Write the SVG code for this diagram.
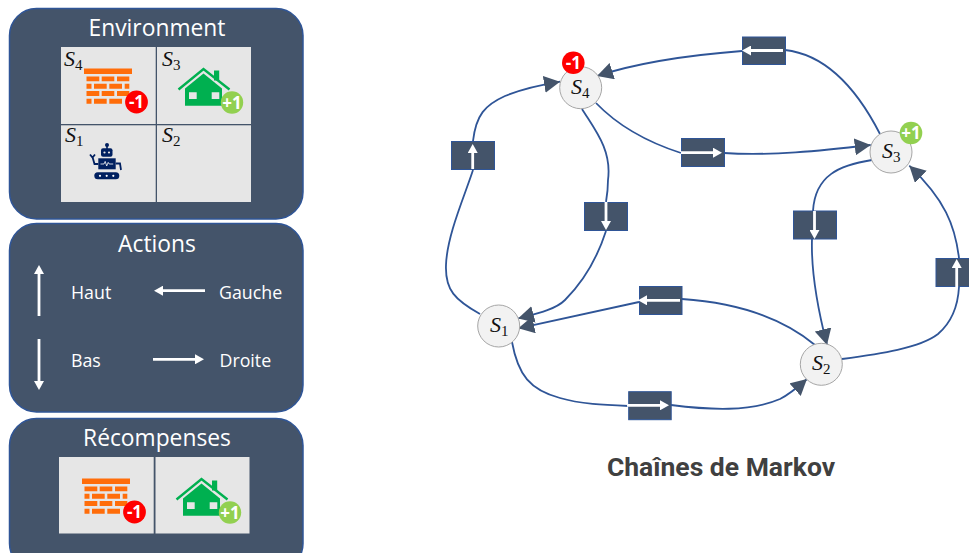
<svg xmlns="http://www.w3.org/2000/svg" width="969" height="553" viewBox="0 0 969 553">
<style>
.panel{fill:#44546a;stroke:#2f5597;stroke-width:1.5}
.cell{fill:#e6e6e6}
.ttl{font-family:"Open Sans","Liberation Sans",sans-serif;font-size:22.8px;fill:#fff;text-anchor:middle}
.lbl{font-family:"Open Sans","Liberation Sans",sans-serif;font-size:17.8px;fill:#fff}
.s{font-family:"Liberation Serif",serif;font-style:italic;font-size:22px;fill:#111}
.sub{font-style:normal;font-size:15px}
.bt{font-family:"Open Sans","Liberation Sans",sans-serif;font-weight:700;font-size:17px;fill:#fff;text-anchor:middle}
.conn path{fill:none;stroke:#2f5597;stroke-width:1.8}
.conn path.arr{marker-end:url(#head)}
.box{fill:#44546a;stroke:#2f5597;stroke-width:1}
.wa{fill:none;stroke:#fff;stroke-width:2.8;marker-end:url(#whead)}
.st{fill:#f2f2f2;stroke:#a6a6a6;stroke-width:1}
</style>
<defs>
<marker id="head" markerUnits="userSpaceOnUse" markerWidth="16" markerHeight="17" refX="16" refY="8.5" orient="auto"><path d="M0,0L16,8.5L0,17z" fill="#44546a"/></marker>
<marker id="whead" markerUnits="userSpaceOnUse" markerWidth="9" markerHeight="10" refX="1" refY="5" orient="auto"><path d="M0,0L9,5L0,10z" fill="#fff"/></marker>
<g id="wall" fill="#ff6d0a">
<rect x="84" y="68.5" width="48" height="5.5"/>
<path d="M86.5,76.5h12.8v4.7h-12.8zM101.7,76.5h12.6v4.7h-12.6zM117,76.5h12.3v4.7h-12.3zM86.5,83.7h5v5h-5zM94,83.7h12.7v5h-12.7zM109.3,83.7h12.7v5h-12.7zM124.7,83.7h4.6v5h-4.6zM86.5,91h12.8v5h-12.8zM101.7,91h12.6v5h-12.6zM117,91h12.3v5h-12.3zM86.5,98.7h5v5h-5zM94,98.7h12.7v5h-12.7zM109.3,98.7h12.7v5h-12.7z"/>
<circle cx="136.5" cy="102" r="11.4" fill="#ff0000"/>
<text class="bt" x="136.5" y="108">-1</text>
</g>
<g id="house">
<path fill="#00b050" d="M185,88.5L203.5,73.5L222,88.5V105.7H185z"/>
<rect x="214" y="70.5" width="5.2" height="10" fill="#00b050"/>
<path d="M178.5,89.5L203.5,69L229.5,89.5" fill="none" stroke="#00b050" stroke-width="2.4"/>
<path d="M189,92.3h7.7V99H189zM211.7,92.3h7.6V99h-7.6z" fill="#e6e6e6"/>
<circle cx="232" cy="102.5" r="11.2" fill="#92d050"/>
<text class="bt" x="232" y="108.5">+1</text>
</g>
</defs>

<g id="panel-environment">
<rect class="panel" x="9.5" y="8.5" width="293.5" height="210.5" rx="27"/>
<text class="ttl" x="157" y="36">Environment</text>
<rect class="cell" x="61" y="47" width="94.7" height="77"/>
<rect class="cell" x="157" y="47" width="94" height="77"/>
<rect class="cell" x="61" y="125.3" width="94.7" height="76.7"/>
<rect class="cell" x="157" y="125.3" width="94" height="76.7"/>
<text class="s" x="64" y="66">S<tspan class="sub" dy="3.5">4</tspan></text>
<text class="s" x="162" y="66">S<tspan class="sub" dy="3.5">3</tspan></text>
<text class="s" x="65" y="142">S<tspan class="sub" dy="3.5">1</tspan></text>
<text class="s" x="162" y="142">S<tspan class="sub" dy="3.5">2</tspan></text>
<use href="#wall"/>
<use href="#house"/>
<g id="robot">
<circle cx="107" cy="145" r="2" fill="#002060"/>
<path d="M106.2,146h1.6v3h-1.6z" fill="#002060"/>
<rect x="101" y="148.3" width="11.5" height="8.4" rx="2" fill="#002060"/>
<circle cx="104.5" cy="152.5" r="1.1" fill="#e6e6e6"/><circle cx="109" cy="152.5" r="1.1" fill="#e6e6e6"/>
<rect x="98.3" y="158.3" width="17.4" height="11" fill="#002060"/>
<path d="M100.5,164h3.5l1.2,-2.6l1.5,4.6l1.5,-3.6l1,1.6h4" fill="none" stroke="#fff" stroke-width=".8"/>
<path d="M98.3,164H94.5L92.5,157M90,154.5L92.5,157.5L95,154.5M115.7,163.5H120L121,170" fill="none" stroke="#002060" stroke-width="1.8"/>
<rect x="94.3" y="172.3" width="25" height="7" rx="3.5" fill="#002060"/>
<circle cx="100" cy="175.8" r="1.1" fill="#fff"/><circle cx="106.7" cy="175.8" r="1.1" fill="#fff"/><circle cx="113.3" cy="175.8" r="1.1" fill="#fff"/>
</g>
</g>

<g id="panel-actions">
<rect class="panel" x="9.5" y="223.5" width="293.5" height="188.5" rx="27"/>
<text class="ttl" x="157" y="252">Actions</text>
<path class="wa" d="M39,316V273"/>
<path class="wa" d="M39,339V382"/>
<path class="wa" d="M205,290.7H162"/>
<path class="wa" d="M153,359.3H196"/>
<text class="lbl" x="71" y="298.5">Haut</text>
<text class="lbl" x="219" y="299">Gauche</text>
<text class="lbl" x="71" y="366.5">Bas</text>
<text class="lbl" x="219.5" y="367">Droite</text>
</g>

<g id="panel-recompenses">
<rect class="panel" x="9.5" y="418.5" width="293.5" height="152" rx="27"/>
<text class="ttl" x="157" y="446">Récompenses</text>
<rect class="cell" x="59" y="457" width="94.7" height="76.5"/>
<rect class="cell" x="155.5" y="457" width="94" height="76.5"/>
<use href="#wall" transform="translate(-2,410)"/>
<use href="#house" transform="translate(-2,410)"/>
</g>

<g id="connectors" class="conn">
<path class="arr" d="M596,103C620,128 650,143 681,153M724,153C770,156 820,151 870.7,145"/>
<path class="arr" d="M880,134C860,95 830,55 785,50M742,51C690,55 640,62 597,76"/>
<path class="arr" d="M582,109C595,130 612,150 608,180Q608,190 606,202M606,231C595,265 580,285 565,300C555,310 535,314 518,318.5"/>
<path class="arr" d="M480,314C455,300 445,290 446,265C447,235 465,195 473,170M473,141C476,115 485,105 505,96C520,90 540,85 560,81.7"/>
<path class="arr" d="M815,345C785,320 740,303 682,299M639,302L518.3,328.3"/>
<path class="arr" d="M512,342C518,375 530,390 560,398C580,404 605,405 629,406M671,405C710,410 750,412 780,399C790,394 798,387 807,379"/>
<path class="arr" d="M842,359C880,354 920,348 938,334C952,322 958,305 959,287M959,258C955,225 945,200 909.3,165.7"/>
<path class="arr" d="M872,160C840,165 815,175 813,211M812,239C811,270 818,310 827,345"/>
</g>

<g id="action-s4-s3"><rect class="box" x="681.5" y="138.5" width="43" height="28"/><path class="wa" d="M681,152.7H714"/></g>
<g id="action-s3-s4"><rect class="box" x="742.5" y="37" width="43" height="27.5"/><path class="wa" d="M783,50.5H750"/></g>
<g id="action-s1-s4"><rect class="box" x="451.5" y="141.5" width="43" height="28"/><path class="wa" d="M472.7,169V152"/></g>
<g id="action-s4-s1"><rect class="box" x="584.5" y="202.5" width="43" height="28"/><path class="wa" d="M606,202V222"/></g>
<g id="action-s3-s2"><rect class="box" x="793.5" y="211" width="43" height="28"/><path class="wa" d="M814.5,211V231"/></g>
<g id="action-s2-s3"><rect class="box" x="936" y="258.5" width="43" height="28"/><path class="wa" d="M956.7,287V267"/></g>
<g id="action-s2-s1"><rect class="box" x="639.5" y="286.5" width="42.5" height="28"/><path class="wa" d="M680,300.3H646"/></g>
<g id="action-s1-s2"><rect class="box" x="628.7" y="391.7" width="42.5" height="28"/><path class="wa" d="M627,405.3H661"/></g>

<g id="node-s4"><circle class="st" cx="580.7" cy="87.7" r="21"/><text class="s" x="571" y="94">S<tspan class="sub" dy="3.5">4</tspan></text><circle cx="573.3" cy="62.7" r="11.3" fill="#ff0000"/><text class="bt" x="573.3" y="68.7">-1</text></g>
<g id="node-s3"><circle class="st" cx="891" cy="152" r="21"/><text class="s" x="882" y="158">S<tspan class="sub" dy="3.5">3</tspan></text><circle cx="911" cy="133" r="11.3" fill="#92d050"/><text class="bt" x="911" y="139">+1</text></g>
<g id="node-s2"><circle class="st" cx="821.3" cy="364.3" r="21"/><text class="s" x="812" y="370">S<tspan class="sub" dy="3.5">2</tspan></text></g>
<g id="node-s1"><circle class="st" cx="498.7" cy="326" r="21"/><text class="s" x="490" y="332">S<tspan class="sub" dy="3.5">1</tspan></text></g>

<text id="title" x="721" y="476" font-family="Roboto,sans-serif" font-weight="700" font-size="26.5px" fill="#404040" text-anchor="middle">Chaînes de Markov</text>
</svg>
